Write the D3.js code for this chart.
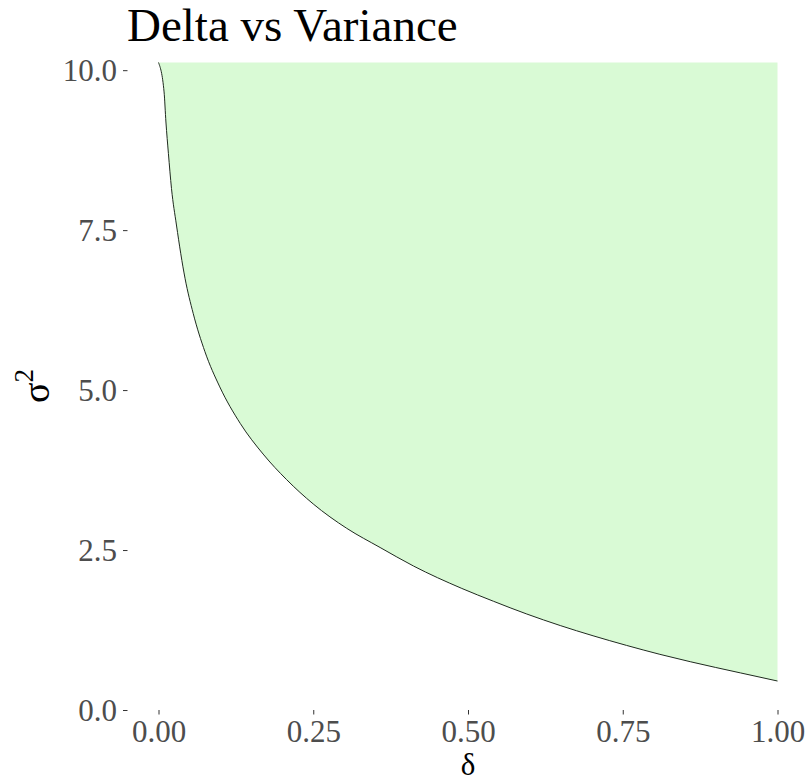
<!DOCTYPE html>
<html>
<head>
<meta charset="utf-8">
<script src="https://cdn.jsdelivr.net/npm/d3@7"></script>
<style>
  html, body { margin: 0; padding: 0; background: #fff; }
  svg { display: block; }
  text { font-family: "Liberation Serif", "Times New Roman", serif; }
</style>
</head>
<body>
<svg id="chart" width="807" height="782"></svg>
<script>
// Boundary curve: variance threshold sigma^2 for each delta
const delta  = [0, 0.009, 0.012, 0.016, 0.021, 0.029, 0.043, 0.056, 0.075, 0.099, 0.132, 0.169, 0.207, 0.25, 0.304, 0.358, 0.412, 0.49, 0.541, 0.595, 0.649, 0.702, 0.756, 0.81, 0.859, 0.94, 1.0];
const sigma2 = [10.12, 9.66, 9.19, 8.70, 8.15, 7.58, 6.74, 6.20, 5.60, 5.05, 4.48, 4.00, 3.60, 3.22, 2.84, 2.54, 2.25, 1.90, 1.70, 1.50, 1.32, 1.16, 1.01, 0.87, 0.755, 0.58, 0.453];

const xTicks = [0, 0.25, 0.5, 0.75, 1];
const yTicks = [0, 2.5, 5, 7.5, 10];
const yMax = 10.12;

const svg = d3.select("#chart");

const x = d3.scaleLinear().domain([0, 1]).range([158.5, 777.5]);
const y = d3.scaleLinear().domain([0, yMax]).range([710, 62.5]);

const pts = delta.map((d, i) => ({ d, s: sigma2[i] }));
const curve = d3.curveMonotoneX;

// shaded region above the curve
svg.append("path")
  .datum(pts)
  .attr("fill", "#d9fad5")
  .attr("d", d3.area()
    .curve(curve)
    .x(p => x(p.d))
    .y0(p => y(p.s))
    .y1(() => y(yMax)));

// boundary line
svg.append("path")
  .datum(pts)
  .attr("fill", "none")
  .attr("stroke", "#1f2a1f")
  .attr("stroke-width", 1)
  .attr("d", d3.line().curve(curve).x(p => x(p.d)).y(p => y(p.s)));

// axes (ticks only, no axis lines)
const panelLeft = 127.5;
const panelBottom = 710;

const xAxis = svg.append("g")
  .attr("transform", `translate(0,${panelBottom})`)
  .call(d3.axisBottom(x).tickValues(xTicks).tickFormat(d3.format(".2f")).tickSize(4.5).tickPadding(7));
xAxis.select(".domain").remove();
xAxis.selectAll(".tick line").attr("stroke", "#333");
xAxis.selectAll(".tick text")
  .attr("fill", "#4d4d4d")
  .attr("font-size", 31)
  .attr("dy", "0.66em");

const yAxis = svg.append("g")
  .attr("transform", `translate(${panelLeft},0)`)
  .call(d3.axisLeft(y).tickValues(yTicks).tickFormat(d3.format(".1f")).tickSize(4.5).tickPadding(6));
yAxis.select(".domain").remove();
yAxis.selectAll(".tick line").attr("stroke", "#333");
yAxis.selectAll(".tick text")
  .attr("fill", "#4d4d4d")
  .attr("font-size", 31)
  .attr("dy", "0.34em");

// title
svg.append("text")
  .attr("x", 127)
  .attr("y", 41)
  .attr("font-size", 47)
  .attr("fill", "#000")
  .text("Delta vs Variance");

// x axis title
svg.append("text")
  .attr("x", 468)
  .attr("y", 775)
  .attr("text-anchor", "middle")
  .attr("font-size", 31)
  .attr("fill", "#000")
  .text("δ");

// y axis title with superscript
const yt = svg.append("text")
  .attr("transform", `translate(49,386) rotate(-90)`)
  .attr("text-anchor", "middle")
  .attr("font-size", 38)
  .attr("fill", "#000");
yt.append("tspan").text("σ");
yt.append("tspan").attr("font-size", 27).attr("dy", -16).text("2");
</script>
</body>
</html>
